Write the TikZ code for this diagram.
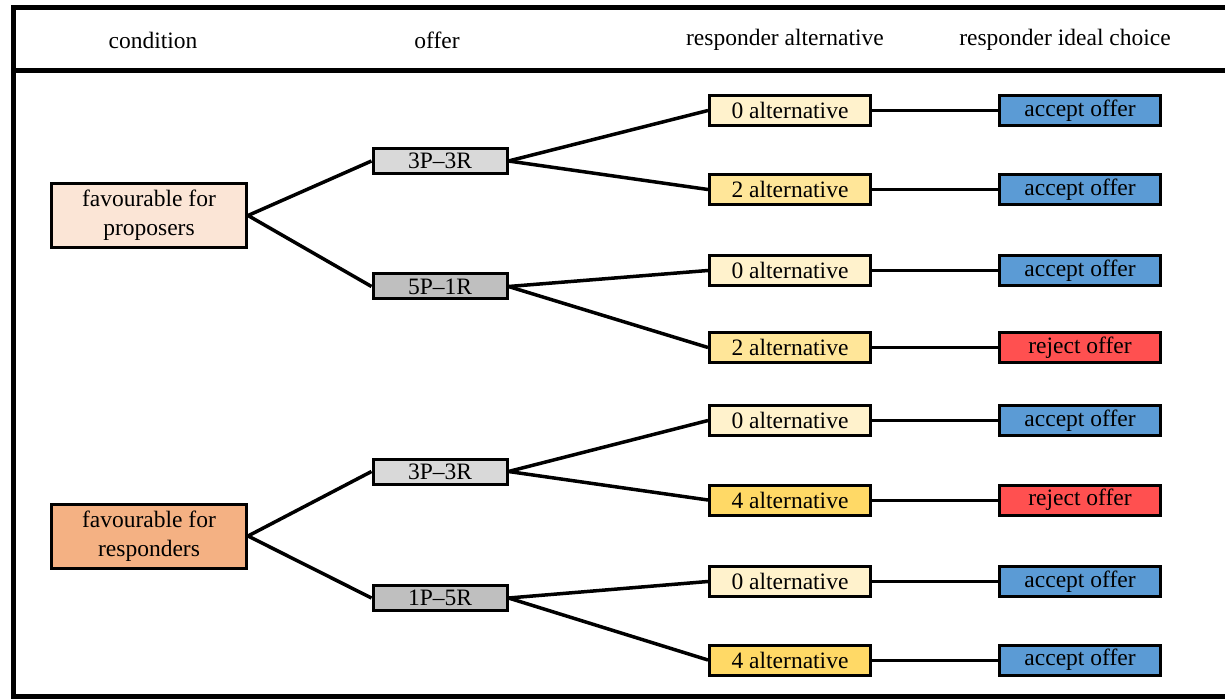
\documentclass[tikz,border=0pt]{standalone}
\usepackage{fontspec}
\setmainfont{Liberation Serif}
\definecolor{propfill}{HTML}{FBE5D6}
\definecolor{respfill}{HTML}{F4B183}
\definecolor{offlight}{HTML}{D9D9D9}
\definecolor{offdark}{HTML}{BFBFBF}
\definecolor{altzero}{HTML}{FFF2CC}
\definecolor{alttwo}{HTML}{FFE699}
\definecolor{altfour}{HTML}{FFD966}
\definecolor{acceptc}{HTML}{5B9BD5}
\definecolor{rejectc}{HTML}{FF5050}
\begin{document}
\begin{tikzpicture}[x=1pt,y=-1pt,
  every node/.style={font=\fontsize{23.5}{29}\selectfont},
  box/.style={draw=black,line width=3pt,inner sep=0pt,align=center},
  condbox/.style={box,minimum width=195pt,minimum height=64pt},
  offbox/.style={box,minimum width=134pt,minimum height=25pt},
  altbox/.style={box,minimum width=161pt,minimum height=30pt},
  choicebox/.style={box,minimum width=161pt,minimum height=30pt},
  conn/.style={line width=3.5pt},
  hconn/.style={line width=3pt},
  header/.style={inner sep=0pt}]
\useasboundingbox (0,0) rectangle (1225,700);
\begin{scope}
\clip (0,0) rectangle (1225,700);
\draw[line width=5pt] (1240,8) -- (13,8) -- (13,696.5) -- (1240,696.5);
\draw[line width=5pt] (13,70.5) -- (1240,70.5);
\end{scope}
% headers
\node[header] (h1) at (153,40) {condition};
\node[header] (h2) at (437,40) {offer};
\node[header] (h3) at (785,40) {responder alternative};
\node[header] (h4) at (1065,40) {responder ideal choice};
% conditions
\node[condbox,fill=propfill] (c1) at (149,215.5) {favourable for\\proposers};
\node[condbox,fill=respfill] (c2) at (149,536) {favourable for\\responders};
% offers
\node[offbox,fill=offlight] (o1) at (440,161) {3P--3R};
\node[offbox,fill=offdark] (o2) at (440,286.5) {5P--1R};
\node[offbox,fill=offlight] (o3) at (440,471.5) {3P--3R};
\node[offbox,fill=offdark] (o4) at (440,598) {1P--5R};
% alternatives
\node[altbox,fill=altzero] (a1) at (790,110.5) {0 alternative};
\node[altbox,fill=alttwo] (a2) at (790,189.5) {2 alternative};
\node[altbox,fill=altzero] (a3) at (790,270.5) {0 alternative};
\node[altbox,fill=alttwo] (a4) at (790,347.5) {2 alternative};
\node[altbox,fill=altzero] (a5) at (790,420.5) {0 alternative};
\node[altbox,fill=altfour] (a6) at (790,500) {4 alternative};
\node[altbox,fill=altzero] (a7) at (790,581.5) {0 alternative};
\node[altbox,fill=altfour] (a8) at (790,660) {4 alternative};
% choices
\node[choicebox,fill=acceptc] (r1) at (1080,110.5) {accept offer};
\node[choicebox,fill=acceptc] (r2) at (1080,189.5) {accept offer};
\node[choicebox,fill=acceptc] (r3) at (1080,270.5) {accept offer};
\node[choicebox,fill=rejectc] (r4) at (1080,347.5) {reject offer};
\node[choicebox,fill=acceptc] (r5) at (1080,420.5) {accept offer};
\node[choicebox,fill=rejectc] (r6) at (1080,500) {reject offer};
\node[choicebox,fill=acceptc] (r7) at (1080,581.5) {accept offer};
\node[choicebox,fill=acceptc] (r8) at (1080,660) {accept offer};
% connectors
\begin{scope}[on background layer/.style={}]
\draw[conn] (c1.east) -- (o1.west);
\draw[conn] (c1.east) -- (o2.west);
\draw[conn] (c2.east) -- (o3.west);
\draw[conn] (c2.east) -- (o4.west);
\draw[conn] (o1.east) -- (a1.west);
\draw[conn] (o1.east) -- (a2.west);
\draw[conn] (o2.east) -- (a3.west);
\draw[conn] (o2.east) -- (a4.west);
\draw[conn] (o3.east) -- (a5.west);
\draw[conn] (o3.east) -- (a6.west);
\draw[conn] (o4.east) -- (a7.west);
\draw[conn] (o4.east) -- (a8.west);
\draw[hconn] (a1.east) -- (r1.west);
\draw[hconn] (a2.east) -- (r2.west);
\draw[hconn] (a3.east) -- (r3.west);
\draw[hconn] (a4.east) -- (r4.west);
\draw[hconn] (a5.east) -- (r5.west);
\draw[hconn] (a6.east) -- (r6.west);
\draw[hconn] (a7.east) -- (r7.west);
\draw[hconn] (a8.east) -- (r8.west);
\end{scope}
\end{tikzpicture}
\end{document}
